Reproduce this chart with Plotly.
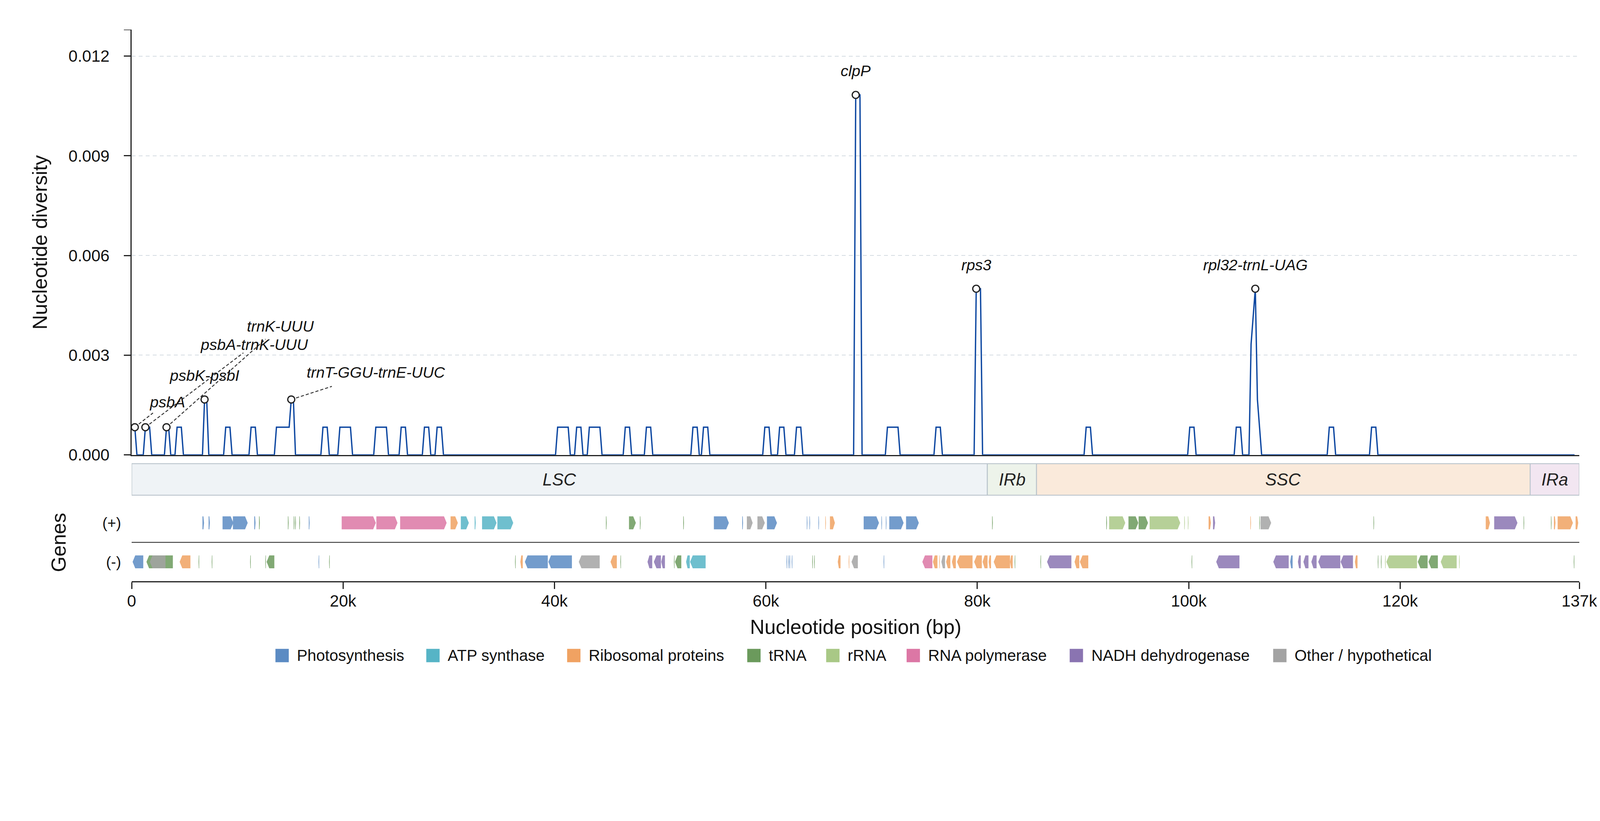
import numpy as np
import plotly.graph_objects as go

FONT = "Liberation Sans, Arial, sans-serif"

# the page is photographed slightly enlarged and shifted by the <body> margin:
# layout values below are given in photographed pixels and converted here
KX, KY = 1.054, 1.040
BODY = 8
SHIFT_Y = 2.5
PHOTO_W, PHOTO_H = 4322, 2102
PX_L, PX_R = 355, 4261          # plot area left / right in the photo


def css_x(v):
    return v / KX - BODY


def css_y(v):
    return (v - SHIFT_Y) / KY - BODY


W = int(round(css_x(PHOTO_W)))
H = int(round(css_y(PHOTO_H)))
ML = css_x(PX_L)
PW = css_x(PX_R) - ML


def px_x(px):
    return (css_x(px) - ML) / PW


def px_y(py):
    return 1 - css_y(py) / H


genome_len = 136950
win_step = 200

# sliding windows (midpoint, bp): runs of consecutive windows sharing one pi value
run_start = [300, 1300, 3300, 4300, 6900, 8900, 11300, 13700, 15100, 18100,
             19700, 23100, 25500, 27700, 28900, 40300, 42100, 43300, 46700, 48700,
             53100, 54100, 59900, 61300, 62900, 68500, 71500, 76100, 79900, 90300,
             100100, 104500, 105900, 106100, 106300, 106500, 106700, 113300, 117300]
run_end = [300, 1700, 3500, 4700, 7100, 9300, 11700, 14900, 15300, 18500,
           20700, 24100, 25900, 28100, 29300, 41300, 42500, 44300, 47100, 49100,
           53500, 54500, 60300, 61700, 63300, 68900, 72500, 76500, 80300, 90700,
           100500, 104900, 105900, 106100, 106300, 106500, 106700, 113700, 117700]
run_pi = [0.000833, 0.000833, 0.000833, 0.000833, 0.001667, 0.000833, 0.000833, 0.000833, 0.001667, 0.000833,
          0.000833, 0.000833, 0.000833, 0.000833, 0.000833, 0.000833, 0.000833, 0.000833, 0.000833, 0.000833,
          0.000833, 0.000833, 0.000833, 0.000833, 0.000833, 0.010833, 0.000833, 0.000833, 0.005, 0.000833,
          0.000833, 0.000833, 0.003333, 0.004167, 0.005, 0.001667, 0.000833, 0.000833, 0.000833]

# labelled hotspots
peak_name = ["psbA", "psbA-trnK-UUU", "trnK-UUU", "psbK-psbI", "trnT-GGU-trnE-UUC",
             "clpP", "rps3", "rpl32-trnL-UAG"]
peak_pos = [300, 1300, 3300, 6900, 15100, 68500, 79900, 106300]
label_x = [3370, 11600, 14070, 6880, 23100, 68500, 79900, 106300]
label_y = [0.00160, 0.00332, 0.00388, 0.00239, 0.00249, 0.01156, 0.00572, 0.00572]
leader_frac = [0.56, 0.90, 0.87, 0, 0.48, 0, 0, 0]

# genome regions
region_name = ["LSC", "IRb", "SSC", "IRa"]
region_start = [0, 80950, 85600, 132300]
region_end = [80950, 85600, 132300, 136950]
region_fill = ["#EFF3F6", "#EDF3EA", "#FAEADB", "#F2E6F1"]

# genes per functional class: (start, end, strand)
photosynthesis = [
    (6700, 6850, "+"), (7280, 7400, "+"), (8600, 9620, "+"), (9580, 10980, "+"),
    (11600, 11720, "+"), (16760, 16840, "+"), (55080, 56500, "+"), (57760, 57840, "+"),
    (60100, 61050, "+"), (63870, 63930, "+"), (64120, 64180, "+"), (64970, 65030, "+"),
    (69250, 70700, "+"), (70930, 70990, "+"), (71350, 71410, "+"), (71670, 73030, "+"),
    (73260, 74470, "+"),
    (90, 1100, "-"), (17680, 17740, "-"), (37200, 39370, "-"), (39420, 41650, "-"),
    (61950, 62010, "-"), (62120, 62180, "-"), (62230, 62290, "-"), (62440, 62500, "-"),
    (71130, 71190, "-"), (109600, 109830, "-"),
]
atp_synthase = [
    (31140, 31900, "+"), (32450, 32550, "+"), (33150, 34520, "+"), (34600, 36100, "+"),
    (52450, 52800, "-"), (52830, 54300, "-"),
]
ribosomal = [
    (30170, 30860, "+"), (65620, 65680, "+"), (66060, 66530, "+"), (101880, 102100, "+"),
    (105830, 105890, "+"), (128100, 128500, "+"), (134550, 134700, "+"), (134900, 136350, "+"),
    (136600, 136850, "+"),
    (4540, 5560, "-"), (36770, 37000, "-"), (45300, 45900, "-"), (66800, 67060, "-"),
    (67830, 67890, "-"), (75800, 76230, "-"), (76400, 76460, "-"), (77050, 77450, "-"),
    (77600, 77970, "-"), (78080, 79550, "-"), (79700, 80430, "-"), (80500, 80970, "-"),
    (81070, 81300, "-"), (81550, 83100, "-"), (83100, 83350, "-"), (89200, 89650, "-"),
    (89700, 90500, "-"), (115720, 115970, "-"),
]
trna = [
    (12050, 12130, "+"), (14780, 14850, "+"), (15330, 15400, "+"), (15470, 15540, "+"),
    (15860, 15930, "+"), (44870, 44940, "+"), (47050, 47700, "+"), (48080, 48150, "+"),
    (52180, 52250, "+"), (81400, 81470, "+"), (92200, 92270, "+"), (94300, 95230, "+"),
    (95260, 96150, "+"), (106680, 106740, "+"), (117480, 117540, "+"), (131680, 131740, "+"),
    (134270, 134330, "+"),
    (1400, 3900, "-"), (6330, 6390, "-"), (7570, 7630, "-"), (11210, 11270, "-"),
    (12640, 12700, "-"), (12770, 13500, "-"), (18680, 18740, "-"), (36270, 36330, "-"),
    (46230, 46290, "-"), (51300, 51360, "-"), (51400, 52000, "-"), (64380, 64440, "-"),
    (64560, 64620, "-"), (83530, 83590, "-"), (85970, 86030, "-"), (100270, 100330, "-"),
    (117880, 117940, "-"), (118180, 118240, "-"), (121670, 122600, "-"), (122680, 123570, "-"),
    (136420, 136480, "-"),
]
rrna = [
    (92470, 94000, "+"), (96300, 99200, "+"), (99580, 99640, "+"), (99920, 99980, "+"),
    (118570, 118630, "-"), (118700, 121600, "-"), (123840, 125350, "-"), (125570, 125630, "-"),
]
rna_polymerase = [
    (19870, 23100, "+"), (23150, 25150, "+"), (25400, 29800, "+"),
    (74800, 75750, "-"),
]
nadh = [
    (102300, 102500, "+"), (128900, 131100, "+"),
    (48800, 49250, "-"), (49400, 50070, "-"), (50100, 50450, "-"), (86600, 88900, "-"),
    (102600, 104800, "-"), (108000, 109460, "-"), (110330, 110600, "-"), (110850, 111330, "-"),
    (111600, 112100, "-"), (112250, 114340, "-"), (114370, 115540, "-"),
]
other = [
    (58200, 58750, "+"), (59200, 59900, "+"), (106800, 107800, "+"),
    (1720, 3200, "-"), (42300, 44280, "-"), (68100, 68700, "-"), (76600, 76950, "-"),
]

cat_names = ["Photosynthesis", "ATP synthase", "Ribosomal proteins", "tRNA", "rRNA",
             "RNA polymerase", "NADH dehydrogenase", "Other / hypothetical"]
cat_genes = [photosynthesis, atp_synthase, ribosomal, trna, rrna, rna_polymerase, nadh, other]
cat_colors = ["#5B8BC3", "#56B4C6", "#F0A262", "#6B9A5C", "#A9C886", "#DC77A5", "#8A74B1", "#A3A3A3"]
legend_px = [743, 1150, 1530, 2016, 2229, 2446, 2886, 3435]

x_tickvals = [0, 20000, 40000, 60000, 80000, 100000, 120000, 136950]
x_ticktext = ["0", "20k", "40k", "60k", "80k", "100k", "120k", "137k"]
y_tickvals = [0, 0.003, 0.006, 0.009, 0.012]
y_ticktext = ["0.000", "0.003", "0.006", "0.009", "0.012"]
y_max = 0.0128


def rgba(hex_color, a):
    h = hex_color.lstrip("#")
    return "rgba(%d,%d,%d,%.2f)" % (int(h[0:2], 16), int(h[2:4], 16), int(h[4:6], 16), a)


# full window series
win_pos = np.arange(300, genome_len - 299, win_step)
pi = np.zeros(len(win_pos))
for s, e, v in zip(run_start, run_end, run_pi):
    pi[(win_pos >= s) & (win_pos <= e)] = v
pi_at = dict(zip(win_pos.tolist(), pi.tolist()))

fig = go.Figure()

fig.add_trace(go.Scatter(
    x=win_pos, y=pi, mode="lines", line=dict(color="#0D47A1", width=3.4),
    xaxis="x", yaxis="y", showlegend=False, hoverinfo="skip"))

# leader lines from hotspot to its label
for p, lx, ly, f in zip(peak_pos, label_x, label_y, leader_frac):
    if f <= 0:
        continue
    v = pi_at[p]
    fig.add_trace(go.Scatter(
        x=[p, p + f * (lx - p)], y=[v, v + f * (ly - v)], mode="lines",
        line=dict(color="#333333", width=2.4, dash="8px,5px"),
        xaxis="x", yaxis="y", showlegend=False, hoverinfo="skip"))

fig.add_trace(go.Scatter(
    x=peak_pos, y=[pi_at[p] for p in peak_pos], mode="markers",
    marker=dict(size=18, color="white", line=dict(color="#222222", width=3.2)),
    xaxis="x", yaxis="y", showlegend=False, cliponaxis=False, hoverinfo="skip"))

for name, lx, ly in zip(peak_name, label_x, label_y):
    fig.add_annotation(x=lx, y=ly, xref="x", yref="y", text=name, showarrow=False,
                       xanchor="center", yanchor="middle",
                       font=dict(family=FONT, size=39.5, color="#111111", style="italic"))

# gene arrows
half = 0.333
for genes, color in zip(cat_genes, cat_colors):
    xs, ys = [], []
    for s, e, strand in genes:
        h = min(250, 0.4 * (e - s))
        yc = 1 if strand == "+" else -1
        y0, y1 = yc - half, yc + half
        if strand == "+":
            xs += [s, e - h, e, e - h, s, None]
        else:
            xs += [e, s + h, s, s + h, e, None]
        ys += [y0, y0, yc, y1, y1, None]
    fig.add_trace(go.Scatter(
        x=xs, y=ys, mode="lines", fill="toself", fillcolor=rgba(color, 0.85),
        line=dict(width=0, color=rgba(color, 0)), xaxis="x2", yaxis="y2",
        showlegend=False, hoverinfo="skip"))

shapes = []
# region bar
for name, s, e, c in zip(region_name, region_start, region_end, region_fill):
    shapes.append(dict(type="rect", xref="x2", yref="y2", x0=s, x1=e, y0=2.42, y1=4.04,
                       fillcolor=c, line=dict(color="#BAC4CC", width=2.4)))
    fig.add_annotation(x=(s + e) / 2, y=3.23, xref="x2", yref="y2", text=name, showarrow=False,
                       xanchor="center", yanchor="middle",
                       font=dict(family=FONT, size=44, color="#222222", style="italic"))

# strand separator
shapes.append(dict(type="line", xref="x2", yref="y2", x0=0, x1=genome_len, y0=0, y1=0,
                   line=dict(color="#333333", width=2.4)))
# small cap at the top of the y spine
shapes.append(dict(type="line", xref="paper", yref="y", x0=px_x(334), x1=px_x(355),
                   y0=y_max, y1=y_max, line=dict(color="#222222", width=3)))

# legend drawn by hand
leg_y = 1769
for name, color, lpx in zip(cat_names, cat_colors, legend_px):
    shapes.append(dict(type="rect", xref="paper", yref="paper",
                       x0=px_x(lpx), x1=px_x(lpx + 36), y0=px_y(leg_y + 18), y1=px_y(leg_y - 18),
                       fillcolor=color, line=dict(width=0)))
    fig.add_annotation(x=px_x(lpx + 56), y=px_y(leg_y), xref="paper", yref="paper",
                       text=name, showarrow=False, xanchor="left", yanchor="middle",
                       font=dict(family=FONT, size=40.5, color="#111111"))

# axis titles
fig.add_annotation(x=px_x(107), y=px_y(655), xref="paper", yref="paper",
                   text="Nucleotide diversity", textangle=-90, showarrow=False,
                   xanchor="center", yanchor="middle",
                   font=dict(family=FONT, size=51.5, color="#111111"))
fig.add_annotation(x=px_x(157), y=px_y(1464), xref="paper", yref="paper",
                   text="Genes", textangle=-90, showarrow=False,
                   xanchor="center", yanchor="middle",
                   font=dict(family=FONT, size=51.5, color="#111111"))
fig.add_annotation(x=0.5, y=px_y(1692), xref="paper", yref="paper",
                   text="Nucleotide position (bp)", showarrow=False,
                   xanchor="center", yanchor="middle",
                   font=dict(family=FONT, size=51.5, color="#111111"))

fig.update_layout(
    width=W, height=H,
    margin=dict(l=ML, r=W - css_x(PX_R), t=0, b=0),
    paper_bgcolor="white", plot_bgcolor="white",
    font=dict(family=FONT, color="#111111"),
    showlegend=False,
    shapes=shapes,
    xaxis=dict(domain=[0, 1], range=[0, genome_len], anchor="y",
               showline=True, linecolor="#222222", linewidth=3.4,
               ticks="", showticklabels=False, showgrid=False, zeroline=False),
    yaxis=dict(domain=[px_y(1228.3), px_y(82)], range=[0, y_max], anchor="x",
               showline=True, linecolor="#222222", linewidth=3.4,
               ticks="outside", ticklen=17, tickwidth=3, tickcolor="#222222",
               tickvals=y_tickvals, ticktext=y_ticktext,
               tickfont=dict(family=FONT, size=42, color="#111111"), ticklabelstandoff=28,
               showgrid=True, gridcolor="#D5DCE2", gridwidth=2.4, griddash="10px,8px",
               zeroline=False),
    xaxis2=dict(domain=[0, 1], range=[0, genome_len], anchor="y2",
                showline=True, linecolor="#222222", linewidth=3,
                ticks="outside", ticklen=17, tickwidth=3, tickcolor="#222222",
                tickvals=x_tickvals, ticktext=x_ticktext,
                tickfont=dict(family=FONT, size=42, color="#111111"), ticklabelstandoff=-6,
                showgrid=False, zeroline=False),
    yaxis2=dict(domain=[px_y(1569), px_y(1243.5)], range=[-2, 4.2], anchor="x2",
                showline=False, ticks="", tickvals=[1, -1], ticktext=["(+)", "(-)"],
                tickfont=dict(family=FONT, size=38.5, color="#111111"), ticklabelstandoff=26,
                showgrid=False, zeroline=False),
)

fig.write_html("out.html")
